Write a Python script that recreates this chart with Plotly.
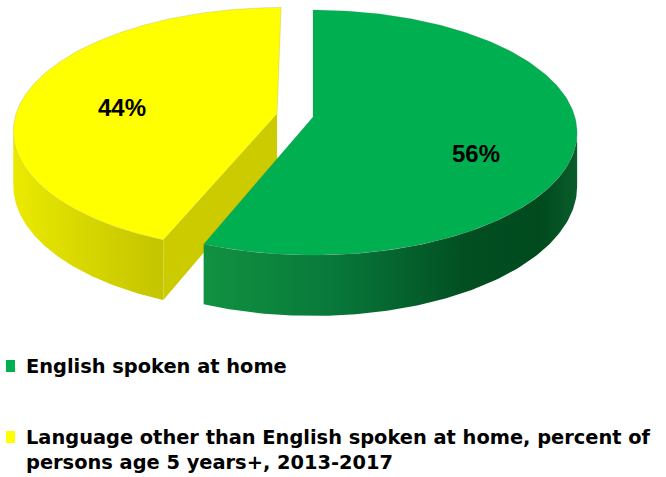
import numpy as np
import plotly.graph_objects as go

# ---- data ----
categories = [
    "English spoken at home",
    "Language other than English spoken at home, percent of<br>persons age 5 years+, 2013-2017",
]
shares = [56, 44]            # percent
pulled = [False, True]       # exploded slice

# ---- styling ----
top_colors = ["#00B050", "#FFFF00"]
side_scales = [
    [[0.0, "#119241"], [0.35, "#08783A"], [0.7, "#024F22"], [0.9, "#004A1E"], [1.0, "#0A5C2B"]],
    [[0.0, "#EAEA00"], [0.5, "#D6D600"], [1.0, "#C4C400"]],
]
cut_colors = ["#0A7A35", "#CBCB00"]

W, H = 666, 477
CX, HY = 313, 117        # projected hub of the disc (px)
RX, RY = 262, 120.6      # rim radii (px) before perspective
P = 0.127                # perspective strength (front looks larger)
DEPTH = 53               # disc thickness at the hub distance (px)
PULL = 0.14              # explode distance as a fraction of the radius
LABEL_RU, LABEL_RV, LABEL_Z = 0.62, 0.93, 0.28


def project(u, v, z=0.0):
    """Ground-plane point (u right, v toward viewer, z down) -> screen px."""
    s = 1.0 / (1.0 - P * v)
    return CX + RX * u * s, HY + RY * v * s + z * DEPTH * s


def rim(a_deg, du, dv, z=0.0):
    a = np.radians(a_deg)
    return project(du + np.sin(a), dv - np.cos(a), z)


fig = go.Figure()

# slice angles, clockwise from 12 o'clock
total = float(sum(shares))
ends = np.cumsum(shares) / total * 360.0
starts = np.concatenate([[0.0], ends[:-1]])

# silhouette of the wall under perspective
sil = np.degrees(np.arcsin(P))
wall_lo, wall_hi = 90.0 + sil, 270.0 - sil

annotations = []
layers = []
for i, v in enumerate(shares):
    a0, a1 = starts[i], ends[i]
    mid = np.radians((a0 + a1) / 2)
    du = dv = 0.0
    if pulled[i]:
        du, dv = PULL * np.sin(mid), -PULL * np.cos(mid)
    hx, hy = project(du, dv)
    hbx, hby = project(du, dv, 1.0)
    traces = []

    # outer wall: only the part facing the viewer
    s0, s1 = max(a0, wall_lo), min(a1, wall_hi)
    if s1 > s0:
        aa = np.linspace(s0, s1, 120)
        tx, ty = rim(aa, du, dv)
        bx, by = rim(aa[::-1], du, dv, 1.0)
        traces.append(go.Scatter(
            x=np.concatenate([tx, bx]), y=np.concatenate([ty, by]),
            fill="toself", mode="lines", line=dict(width=0),
            fillgradient=dict(type="horizontal", colorscale=side_scales[i]),
            hoverinfo="skip", showlegend=False))

    # radial cut faces that face the viewer
    for a, visible in ((a0, np.sin(np.radians(a0)) < -1e-9),
                       (a1, np.sin(np.radians(a1)) > 1e-9)):
        if visible:
            rtx, rty = rim(a, du, dv)
            rbx, rby = rim(a, du, dv, 1.0)
            traces.append(go.Scatter(
                x=[hx, rtx, rbx, hbx, hx],
                y=[hy, rty, rby, hby, hy],
                fill="toself", mode="lines", line=dict(width=0),
                fillcolor=cut_colors[i], hoverinfo="skip", showlegend=False))

    # top face
    aa = np.linspace(a0, a1, 200)
    tx, ty = rim(aa, du, dv)
    traces.append(go.Scatter(
        x=np.concatenate([[hx], tx, [hx]]), y=np.concatenate([[hy], ty, [hy]]),
        fill="toself", mode="lines", line=dict(width=0.6, color="rgba(120,120,120,0.35)"),
        fillcolor=top_colors[i], hoverinfo="skip", showlegend=False))
    layers.append(traces)

    lx, ly = project(du + LABEL_RU * np.sin(mid), dv - LABEL_RV * np.cos(mid), LABEL_Z)
    annotations.append(dict(
        x=lx, y=ly, xref="x", yref="y", text=f"{v}%", showarrow=False,
        font=dict(family="Liberation Sans, Arial, sans-serif", size=24, color="black", weight="bold"),
        xanchor="center", yanchor="middle"))

# exploded slice sits behind, drawn first
for traces in layers[::-1]:
    for t in traces:
        fig.add_trace(t)

# legend block
legend_y = [366, 449.5]
key_y = [366, 437]
shapes = []
for i, name in enumerate(categories):
    shapes.append(dict(type="rect", xref="x", yref="y",
                       x0=6, x1=15, y0=key_y[i] - 6, y1=key_y[i] + 6,
                       fillcolor=top_colors[i], line=dict(width=0)))
    annotations.append(dict(
        x=24, y=legend_y[i], xref="x", yref="y", text=name, showarrow=False,
        align="left", xanchor="left", yanchor="middle",
        font=dict(family="DejaVu Sans, Liberation Sans, sans-serif", size=19.4,
                  color="black", weight="bold")))

fig.update_layout(
    width=W, height=H, margin=dict(l=0, r=0, t=0, b=0),
    paper_bgcolor="white", plot_bgcolor="white",
    xaxis=dict(range=[0, W], visible=False, fixedrange=True),
    yaxis=dict(range=[H, 0], visible=False, fixedrange=True),
    shapes=shapes, annotations=annotations, showlegend=False,
)

fig.write_html("out.html")
